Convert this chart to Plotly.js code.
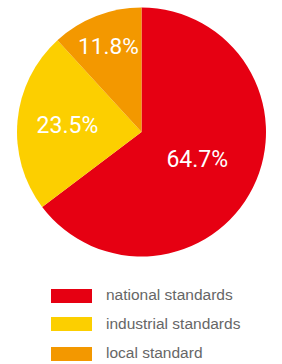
<!DOCTYPE html>
<html>
<head>
<meta charset="utf-8">
<script src="https://cdn.plot.ly/plotly-3.0.1.min.js"></script>
<style>
html,body{margin:0;padding:0;background:#fff;}
#chart{width:282px;height:364px;}
</style>
</head>
<body>
<div id="chart"></div>
<script>
const categories = ["national standards", "industrial standards", "local standard"];
const shares = [64.7, 23.5, 11.8];
const colors = ["#E60012", "#FCCF00", "#F39800"];

const W = 282, H = 364;
const px = v => v / W;
const py = v => 1 - v / H;

const swatchTops = [289, 317, 347];
const textCenters = [294, 323, 352];

const shapes = categories.map((c, i) => ({
  type: "rect", xref: "paper", yref: "paper",
  x0: px(51), x1: px(92), y0: py(swatchTops[i] + 14), y1: py(swatchTops[i]),
  fillcolor: colors[i], line: {width: 0}
}));
const annotations = categories.map((c, i) => ({
  text: c, xref: "paper", yref: "paper", x: px(104), y: py(textCenters[i]),
  xanchor: "left", yanchor: "middle", showarrow: false,
  font: {family: "Liberation Sans, Arial, sans-serif", size: 15.5, color: "#666666"}
}));

const trace = {
  type: "pie",
  labels: categories,
  values: shares,
  text: shares.map(v => v.toFixed(1) + "%"),
  textinfo: "text",
  textposition: "inside",
  insidetextorientation: "horizontal",
  sort: false,
  direction: "clockwise",
  rotation: 0,
  marker: {colors: colors, line: {width: 0}},
  textfont: {family: "Roboto, sans-serif", size: 23, color: "#ffffff"},
  hoverinfo: "none",
  showlegend: false,
  domain: {x: [px(17), px(266)], y: [py(257), py(7)]}
};

Plotly.newPlot("chart", [trace], {
  width: W, height: H,
  margin: {l: 0, r: 0, t: 0, b: 0},
  paper_bgcolor: "#ffffff",
  showlegend: false,
  shapes: shapes,
  annotations: annotations
}, {staticPlot: true});
</script>
</body>
</html>
